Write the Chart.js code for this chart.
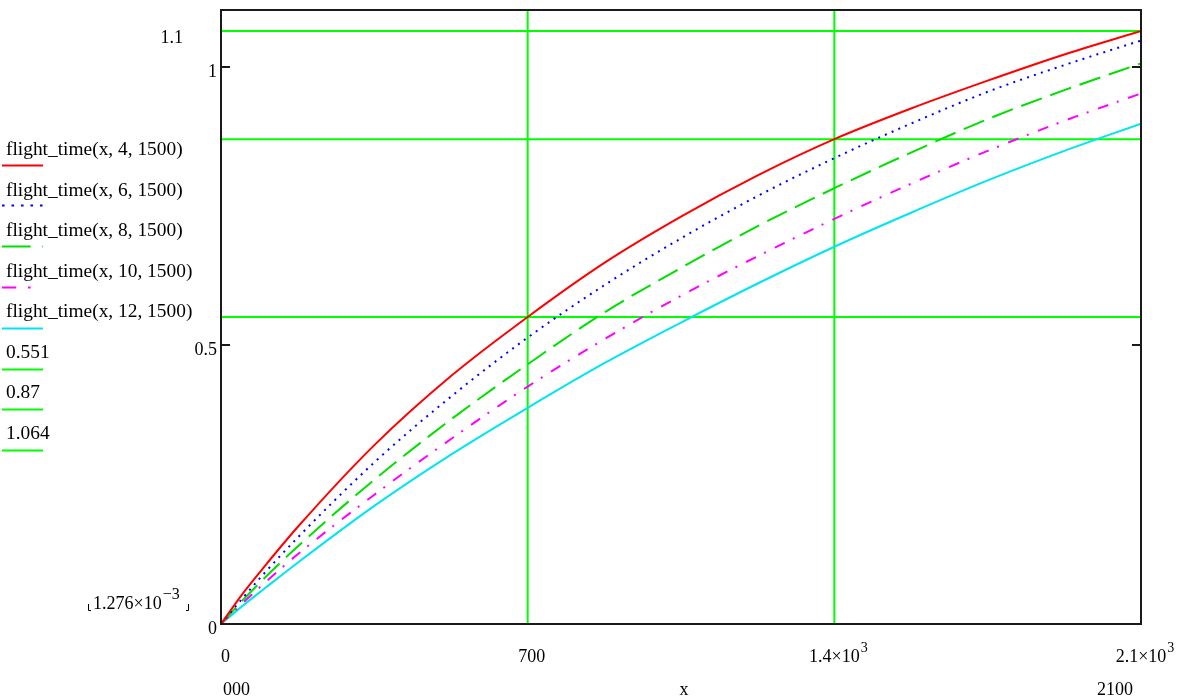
<!DOCTYPE html>
<html>
<head>
<meta charset="utf-8">
<script src="https://cdn.jsdelivr.net/npm/chart.js@4.4.1/dist/chart.umd.min.js"></script>
<style>
  body { margin: 0; background: #fff; }
  #chart { display: block; }
</style>
</head>
<body>
<canvas id="chart" width="1186" height="699"></canvas>
<script>
var xs = [0, 50, 100, 175, 350, 525, 700, 875, 1050, 1225, 1400, 1575, 1750, 1925, 2100];
var ft4 = [0, 0.055, 0.104, 0.174, 0.321, 0.445, 0.551, 0.648, 0.731, 0.805, 0.870, 0.925, 0.975, 1.022, 1.064];
var ft6 = [0, 0.047, 0.092, 0.155, 0.290, 0.408, 0.514, 0.608, 0.692, 0.768, 0.836, 0.898, 0.955, 1.003, 1.047];
var ft8 = [0, 0.043, 0.083, 0.139, 0.259, 0.367, 0.466, 0.559, 0.639, 0.714, 0.782, 0.846, 0.906, 0.958, 1.006];
var ft10 = [0, 0.038, 0.074, 0.125, 0.232, 0.332, 0.426, 0.511, 0.589, 0.660, 0.727, 0.790, 0.849, 0.903, 0.952];
var ft12 = [0, 0.033, 0.064, 0.110, 0.212, 0.304, 0.388, 0.468, 0.541, 0.611, 0.677, 0.738, 0.796, 0.849, 0.898];

// marker lines
var levels = [0.551, 0.87, 1.064];
var markerX = [700, 1400];

var legendLabels = [
  "flight_time(x, 4, 1500)",
  "flight_time(x, 6, 1500)",
  "flight_time(x, 8, 1500)",
  "flight_time(x, 10, 1500)",
  "flight_time(x, 12, 1500)",
  "0.551",
  "0.87",
  "1.064",
];

var yTicks = [0, 0.5, 1];
var yTickText = ["0", "0.5", "1"];
var xTicks = [0, 700, 1400, 2100];
var xTickText = ["0", "700", "1.4×10", "2.1×10"];
var xTickSup = ["", "", "3", "3"];

var xMin = 0, xMax = 2100, yMin = 0, yMax = 1.1;

var FONT = "'Liberation Serif', 'Times New Roman', serif";

function pts(ys) {
  return xs.map(function (x, i) {
    return { x: x, y: ys[i] };
  });
}

function curve(label, ys, color, dash) {
  return {
    label: label,
    data: pts(ys),
    borderColor: color,
    borderWidth: 2,
    borderDash: dash,
    pointRadius: 0,
    fill: false,
    cubicInterpolationMode: "monotone",
  };
}

var datasets = [
  curve(legendLabels[0], ft4, "#ff0000", []),
  curve(legendLabels[1], ft6, "#0000ff", [2, 5.3]),
  curve(legendLabels[2], ft8, "#00e000", [22, 9]),
  curve(legendLabels[3], ft10, "#ff00ff", [11, 9, 2, 10]),
  curve(legendLabels[4], ft12, "#00e5ee", []),
];

levels.forEach(function (v, i) {
  datasets.push({
    label: legendLabels[5 + i],
    data: [{ x: xMin, y: v }, { x: xMax, y: v }],
    borderColor: "#00ff00",
    borderWidth: 2,
    pointRadius: 0,
    fill: false,
  });
});

markerX.forEach(function (v) {
  datasets.push({
    label: "marker " + v,
    data: [{ x: v, y: yMin }, { x: v, y: yMax }],
    borderColor: "#00ff00",
    borderWidth: 2,
    pointRadius: 0,
    fill: false,
  });
});

function textWithSup(ctx, text, sup, x, y, align, size, supScale) {
  var ss = supScale || 0.75;
  ctx.font = size + "px " + FONT;
  var w1 = ctx.measureText(text).width;
  ctx.font = Math.round(size * ss) + "px " + FONT;
  var w2 = sup ? ctx.measureText(sup).width + 1 : 0;
  var total = w1 + w2;
  var x0 = x;
  if (align === "center") x0 = x - total / 2;
  if (align === "right") x0 = x - total;
  ctx.textAlign = "left";
  ctx.font = size + "px " + FONT;
  ctx.fillText(text, x0, y);
  if (sup) {
    ctx.font = Math.round(size * ss) + "px " + FONT;
    ctx.fillText(sup, x0 + w1 + 1, y - size * 0.55);
  }
}

var mathcadDecor = {
  id: "mathcadDecor",
  afterDraw: function (chart) {
    var ctx = chart.ctx;
    var a = chart.chartArea;
    var sx = chart.scales.x;
    var sy = chart.scales.y;
    ctx.save();

    // frame
    ctx.strokeStyle = "#1a1a1a";
    ctx.lineWidth = 2;
    ctx.setLineDash([]);
    ctx.strokeRect(a.left, a.top - 1, a.right - a.left, a.bottom - a.top + 1);

    // y ticks
    yTicks.forEach(function (v) {
      var py = Math.round(sy.getPixelForValue(v));
      ctx.beginPath();
      ctx.moveTo(a.left, py);
      ctx.lineTo(a.left + 9, py);
      if (v > 0) {
        ctx.moveTo(a.right, py);
        ctx.lineTo(a.right - 9, py);
      }
      ctx.stroke();
    });

    ctx.fillStyle = "#000";
    ctx.textBaseline = "alphabetic";

    // y tick labels
    yTicks.forEach(function (v, i) {
      var py = sy.getPixelForValue(v);
      textWithSup(ctx, yTickText[i], "", a.left - 4, py + 10, "right", 18);
    });

    // axis limits
    textWithSup(ctx, "1.1", "", 183, 43, "right", 18);
    textWithSup(ctx, "1.276×10", "−3", 93, 609, "left", 18, 0.9);
    ctx.lineWidth = 1;
    ctx.strokeStyle = "#000";
    ctx.beginPath();
    ctx.moveTo(88.5, 604);
    ctx.lineTo(88.5, 610.5);
    ctx.lineTo(91, 610.5);
    ctx.moveTo(188.5, 604);
    ctx.lineTo(188.5, 610.5);
    ctx.lineTo(186, 610.5);
    ctx.stroke();

    // x tick labels
    xTicks.forEach(function (v, i) {
      var px = sx.getPixelForValue(v);
      if (i === 0) {
        textWithSup(ctx, xTickText[i], xTickSup[i], px, 662, "left", 18);
      } else {
        textWithSup(ctx, xTickText[i], xTickSup[i], px + 4, 662, "center", 18);
      }
    });

    // x range and axis name
    textWithSup(ctx, "000", "", a.left + 2, 695, "left", 18);
    textWithSup(ctx, "x", "", (a.left + a.right) / 2 + 3, 695, "center", 18);
    textWithSup(ctx, "2100", "", a.right - 8, 695, "right", 18);

    // legend
    chart.data.datasets.forEach(function (ds, i) {
      if (i >= legendLabels.length) return;
      var by = 155 + 40.5 * i;
      var ly = Math.round(164.5 + 40.8 * i) + 0.5;
      ctx.fillStyle = "#000";
      textWithSup(ctx, legendLabels[i], "", 6, by, "left", 19.4);
      ctx.strokeStyle = ds.borderColor;
      ctx.lineWidth = 2;
      var dash = (ds.borderDash || []).map(function (d) {
        return d * 1.3;
      });
      ctx.setLineDash(dash);
      ctx.beginPath();
      ctx.moveTo(2, ly);
      ctx.lineTo(43, ly);
      ctx.stroke();
    });
    ctx.setLineDash([]);
    ctx.restore();
  },
};

new Chart(document.getElementById("chart"), {
  type: "line",
  data: { datasets: datasets },
  options: {
    responsive: false,
    animation: false,
    layout: { padding: { left: 221, right: 45, top: 11, bottom: 75 } },
    plugins: {
      legend: { display: false },
      tooltip: { enabled: false },
    },
    scales: {
      x: { type: "linear", min: xMin, max: xMax, display: false },
      y: { type: "linear", min: yMin, max: yMax, display: false },
    },
  },
  plugins: [mathcadDecor],
});
</script>
</body>
</html>
